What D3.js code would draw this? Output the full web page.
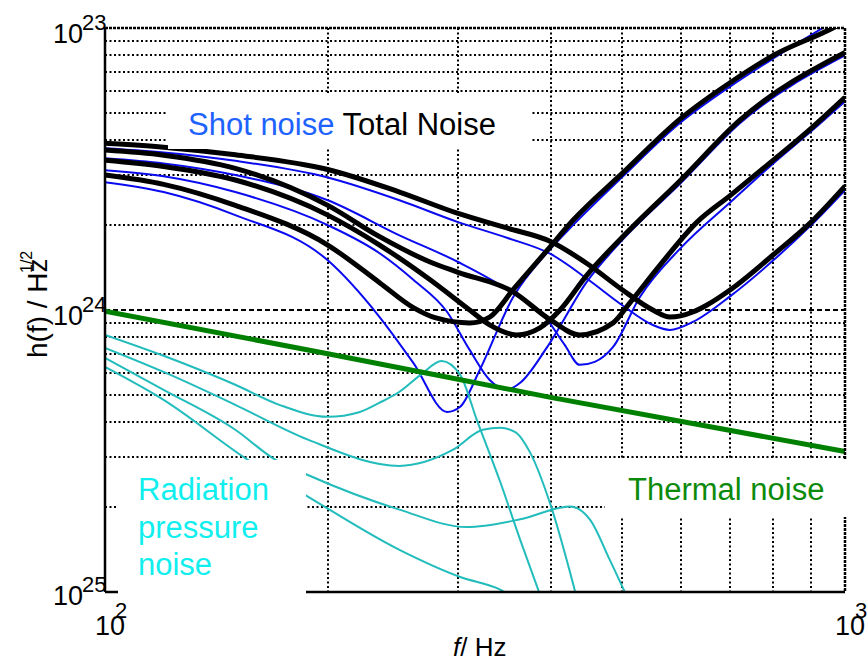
<!DOCTYPE html>
<html>
<head>
<meta charset="utf-8">
<script src="https://cdn.jsdelivr.net/npm/d3@7"></script>
<style>
body { margin: 0; background: #fff; }
text { font-family: "Liberation Sans", Arial, sans-serif; }
</style>
</head>
<body>
<script>
// values, in units of 1e-24 /sqrt(Hz)
const unit = 1e-24

const thermal = [[100, 0.99], [200, 0.70], [400, 0.49], [1000, 0.315]]

const totalA = [[100, 3.90], [120, 3.78], [150, 3.55], [200, 3.15], [250, 2.62], [300, 2.20], [350, 1.95], [400, 1.75], [450, 1.45], [500, 1.18], [550, 1.00], [580, 0.944], [623, 0.984], [650, 1.04], [700, 1.18], [800, 1.57], [900, 2.05], [1000, 2.75]]
const totalB = [[100, 3.69], [120, 3.54], [150, 3.18], [200, 2.35], [235, 1.82], [275, 1.48], [300, 1.36], [356, 1.16], [400, 0.922], [438, 0.816], [486, 0.900], [512, 1.06], [562, 1.44], [631, 2.05], [700, 2.55], [800, 3.40], [900, 4.41], [1000, 5.68]]
const totalC = [[100, 3.40], [120, 3.23], [150, 2.89], [200, 2.17], [235, 1.70], [275, 1.28], [311, 1.00], [331, 0.885], [360, 0.816], [387, 0.864], [412, 1.00], [448, 1.33], [500, 1.81], [600, 2.89], [721, 4.71], [1000, 8.19]]
const totalD = [[100, 3.01], [120, 2.79], [150, 2.35], [200, 1.70], [235, 1.25], [261, 1.02], [280, 0.937], [311, 0.900], [331, 0.944], [356, 1.18], [396, 1.63], [429, 2.08], [500, 3.05], [600, 4.78], [700, 6.41], [800, 7.99], [960, 9.96], [1000, 10.54]]

const shotA = [[100, 3.75], [120, 3.62], [150, 3.38], [200, 2.95], [250, 2.45], [300, 2.05], [350, 1.80], [400, 1.58], [450, 1.28], [500, 1.04], [550, 0.885], [580, 0.850], [623, 0.907], [700, 1.12], [800, 1.50], [900, 2.00], [1000, 2.66]]
const shotB = [[100, 3.45], [120, 3.31], [150, 3.01], [200, 2.45], [250, 1.84], [300, 1.48], [350, 1.18], [396, 0.922], [418, 0.752], [438, 0.639], [459, 0.655], [486, 0.740], [528, 1.11], [600, 1.66], [700, 2.41], [800, 3.31], [900, 4.30], [1000, 5.49]]
const shotC = [[100, 3.13], [120, 2.98], [150, 2.62], [200, 2.00], [235, 1.59], [261, 1.28], [290, 0.984], [311, 0.722], [331, 0.565], [349, 0.521], [364, 0.552], [396, 0.740], [448, 1.26], [500, 1.77], [600, 2.82], [721, 4.59], [1000, 7.99]]
const shotD = [[100, 2.84], [120, 2.62], [150, 2.17], [200, 1.50], [235, 0.944], [261, 0.649], [290, 0.435], [302, 0.454], [320, 0.603], [356, 1.11], [396, 1.60], [429, 2.00], [500, 2.96], [600, 4.63], [700, 6.21], [800, 7.80], [1000, 11.16]]

const radA = [[100, 0.816], [120, 0.688], [150, 0.543], [172, 0.461], [200, 0.418], [221, 0.435], [235, 0.469], [250, 0.513], [267, 0.589], [285, 0.660], [302, 0.589], [318, 0.408], [342, 0.246], [364, 0.153], [387, 0.098]]
const radB = [[100, 0.734], [120, 0.603], [150, 0.461], [188, 0.347], [250, 0.280], [295, 0.319], [324, 0.376], [342, 0.382], [358, 0.370], [375, 0.314], [400, 0.204], [432, 0.100]]
const radC = [[100, 0.676], [120, 0.521], [150, 0.376], [170, 0.294], [188, 0.260], [250, 0.196], [308, 0.170], [364, 0.181], [425, 0.201], [452, 0.181], [481, 0.130], [504, 0.100]]
const radD = [[100, 0.628], [120, 0.480], [156, 0.294], [188, 0.218], [250, 0.141], [302, 0.113], [342, 0.102], [380, 0.085]]

const xTickLabels = [[100, '10', '2'], [1000, '10', '3']]
const yTickLabels = [[1e-23, '10', '23'], [1e-24, '10', '24'], [1e-25, '10', '25']]

const width = 868
const height = 663
const plot = { left: 105, right: 845, top: 28, bottom: 592 }

const svg = d3.select('body').append('svg')
    .attr('width', width)
    .attr('height', height)

const x = d3.scaleLog().domain([100, 1000]).range([plot.left, plot.right])
const y = d3.scaleLog().domain([1e-25, 1e-23]).range([plot.bottom, plot.top])

svg.append('clipPath').attr('id', 'clip')
    .append('rect')
    .attr('x', plot.left).attr('y', plot.top)
    .attr('width', plot.right - plot.left).attr('height', plot.bottom - plot.top)

// grid
const grid = svg.append('g')
grid.selectAll('.vgrid')
    .data(x.ticks().filter(d => d > 100 && d < 1000))
    .enter().append('line')
    .attr('x1', d => Math.round(x(d))).attr('x2', d => Math.round(x(d)))
    .attr('y1', plot.top).attr('y2', plot.bottom)
    .attr('stroke', '#000').attr('stroke-width', 2)
    .attr('stroke-dasharray', '2,2.5')
grid.selectAll('.hgrid')
    .data(y.ticks().filter(d => d > 1.01e-25 && d < 0.99e-23))
    .enter().append('line')
    .attr('x1', plot.left).attr('x2', plot.right)
    .attr('y1', d => Math.round(y(d))).attr('y2', d => Math.round(y(d)))
    .attr('stroke', '#000').attr('stroke-width', 2)
    .attr('stroke-dasharray', d => Math.abs(d / 1e-24 - 1) < 1e-6 ? '5,3' : '2,2.5')

const line = d3.line()
    .x(d => x(d[0]))
    .y(d => y(d[1] * unit))
    .curve(d3.curveMonotoneX)

const curves = svg.append('g').attr('clip-path', 'url(#clip)')

function draw(series, color, w) {
    curves.selectAll(null)
        .data(series)
        .enter().append('path')
        .attr('d', line)
        .attr('fill', 'none')
        .attr('stroke', color)
        .attr('stroke-width', w)
        .attr('stroke-linejoin', 'round')
}

draw([shotA, shotB, shotC, shotD], '#0a0af0', 2)
draw([radA, radB, radC, radD], '#22bcbc', 2)
draw([thermal], '#008000', 5)
draw([totalA, totalB, totalC, totalD], '#000', 5)

// frame (bottom, top, right)
svg.append('line')
    .attr('x1', plot.left).attr('x2', plot.right)
    .attr('y1', plot.bottom).attr('y2', plot.bottom)
    .attr('stroke', '#000').attr('stroke-width', 2.5)
svg.append('line')
    .attr('x1', plot.left).attr('x2', plot.right)
    .attr('y1', plot.top).attr('y2', plot.top)
    .attr('stroke', '#000').attr('stroke-width', 2.5).attr('stroke-dasharray', '3,1')
svg.append('line')
    .attr('x1', plot.right).attr('x2', plot.right)
    .attr('y1', plot.top).attr('y2', plot.bottom)
    .attr('stroke', '#000').attr('stroke-width', 2.5).attr('stroke-dasharray', '3,1')

// label boxes
const fs = 31
const box1 = svg.append('g')
box1.append('rect').attr('x', 168).attr('y', 93).attr('width', 362).attr('height', 56).attr('fill', '#fff')
const t1 = box1.append('text').attr('x', 188).attr('y', 135).attr('font-size', fs)
t1.append('tspan').attr('fill', '#1e63ff').text('Shot noise')
t1.append('tspan').attr('fill', '#000').text(' Total Noise')

const box2 = svg.append('g')
box2.append('rect').attr('x', 118).attr('y', 460).attr('width', 188).attr('height', 142).attr('fill', '#fff')
box2.selectAll('text')
    .data(['Radiation', 'pressure', 'noise'])
    .enter().append('text')
    .attr('x', 138)
    .attr('y', (d, i) => 500 + i * 37.5)
    .attr('font-size', fs)
    .attr('fill', '#10eeee')
    .text(d => d)

const box3 = svg.append('g')
box3.append('rect').attr('x', 605).attr('y', 460).attr('width', 250).attr('height', 57).attr('fill', '#fff')
box3.append('text').attr('x', 628).attr('y', 500).attr('font-size', fs)
    .attr('fill', '#0b8a0b').text('Thermal noise')

// left axis
svg.append('line')
    .attr('x1', plot.left).attr('x2', plot.left)
    .attr('y1', plot.top).attr('y2', plot.bottom)
    .attr('stroke', '#000').attr('stroke-width', 2.5)

// tick labels
yTickLabels.forEach(function (t) {
    const yy = y(t[0])
    const dy = t[0] === 1e-25 ? 13 : 15
    svg.append('text').attr('x', 83).attr('y', yy + dy)
        .attr('text-anchor', 'end').attr('font-size', 27).text(t[1])
    svg.append('text').attr('x', 82).attr('y', yy + dy - 13)
        .attr('font-size', 22).text(t[2])
})
xTickLabels.forEach(function (t) {
    const xx = x(t[0])
    svg.append('text').attr('x', xx - 10).attr('y', 635)
        .attr('font-size', 27).text(t[1])
    svg.append('text').attr('x', xx + 10).attr('y', 618)
        .attr('font-size', 22).text(t[2])
})

// axis titles
const xt = svg.append('text').attr('x', 453).attr('y', 656).attr('font-size', 26)
xt.append('tspan').attr('font-style', 'italic').text('f')
xt.append('tspan').text('/ Hz')

svg.append('text')
    .attr('transform', 'translate(47,358) rotate(-90)')
    .attr('font-size', 28)
    .text('h(f) / Hz')
svg.append('text')
    .attr('transform', 'translate(32,273) rotate(-90)')
    .attr('font-size', 16)
    .text('1/2')
</script>
</body>
</html>
